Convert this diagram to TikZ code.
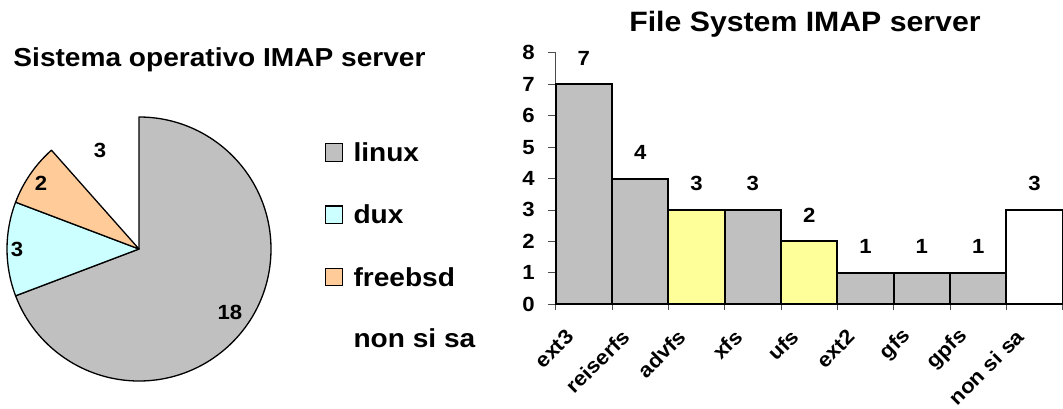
\documentclass[tikz,border=0pt]{standalone}
\usepackage{fontspec}
\setmainfont{Liberation Sans}[FakeStretch=1.08]
\usetikzlibrary{positioning}
\definecolor{osgray}{HTML}{C0C0C0}
\definecolor{oscyan}{HTML}{CCFFFF}
\definecolor{ospeach}{HTML}{FFCC99}
\definecolor{fsyellow}{HTML}{FFFF99}

\begin{document}
\begin{tikzpicture}[x=1pt, y=-1pt,
                    every node/.style = {inner sep=0pt, text=black},
                    charttitle/.style = {font=\fontsize{26}{30}\selectfont\bfseries},
                    legtext/.style = {font=\fontsize{26}{30}\selectfont\bfseries},
                    legbox/.style = {draw, line width=1.2pt, minimum size=17.5pt},
                    numlabel/.style = {font=\fontsize{20.5}{24}\selectfont\bfseries},
                    fslabel/.style = {font=\fontsize{20.5}{24}\selectfont\bfseries, rotate=45, anchor=east},
                    slice/.style = {draw=black, line width=1.3pt, line join=round},
                    barline/.style = {draw=black, line width=2pt},
                    tickline/.style = {draw=black!70, line width=0.9pt}]
    \useasboundingbox (0,0) rectangle (1063,409);

    % operating systems: pie and legend
    \node (ostitle) [charttitle, anchor=base] at (219.5,66.7) {Sistema operativo IMAP server};
    \coordinate (pc) at (139,249);
    \def\R{132pt}
    \fill [white] (pc) -- ++(131.54:\R) arc[start angle=131.54, end angle=90, radius=\R] -- cycle;
    \draw [slice, fill=osgray]  (pc) -- ++(90:\R) arc[start angle=90, end angle=-159.23, radius=\R] -- cycle;
    \draw [slice, fill=oscyan]  (pc) -- ++(200.77:\R) arc[start angle=200.77, end angle=159.23, radius=\R] -- cycle;
    \draw [slice, fill=ospeach] (pc) -- ++(159.23:\R) arc[start angle=159.23, end angle=131.54, radius=\R] -- cycle;

    \node (pielinux)   [numlabel] at (230,312) {18};
    \node (piedux)     [numlabel] at (17,249)  {3};
    \node (piefreebsd) [numlabel] at (41,183)  {2};
    \node (pienone)    [numlabel] at (100,150) {3};

    \begin{scope}[node distance=43.5pt and 10pt]
        \node (lglinux)   [legbox, fill=osgray] at (334,152.5) {};
        \node (lgdux)     [legbox, fill=oscyan, below = of lglinux] {};
        \node (lgfreebsd) [legbox, fill=ospeach, below = of lgdux] {};
        \node (lglinuxtxt)   [legtext, right = of lglinux] {linux};
        \node (lgduxtxt)     [legtext, right = of lgdux] {dux};
        \node (lgfreebsdtxt) [legtext, right = of lgfreebsd] {freebsd};
        \node (lgnonetxt)    [legtext, below = 61pt of lgfreebsdtxt.west, anchor=west] {non si sa};
    \end{scope}

    % file systems: bar chart
    \node (fstitle) [charttitle, font=\fontsize{28}{32}\selectfont\bfseries, anchor=base] at (805,31.7) {File System IMAP server};

    \draw [tickline] (555.7,304.3) -- (555.7,52.7);
    \foreach \v in {0,...,8} {
        \draw [tickline] (547.7,{304.3-31.45*\v}) -- (555.7,{304.3-31.45*\v});
        \node (yl\v) [numlabel, anchor=east] at (535,{304.3-31.45*\v}) {\v};
    }
    \foreach \i in {0,...,9}
        \draw [tickline] ({555.7+56.33*\i},304.3) -- ++(0,6);

    \foreach \fs/\n/\col [count=\i from 0] in {ext3/7/osgray, reiserfs/4/osgray, advfs/3/fsyellow,
            xfs/3/osgray, ufs/2/fsyellow, ext2/1/osgray, gfs/1/osgray, gpfs/1/osgray, {non si sa}/3/white} {
        \pgfmathsetmacro\xl{555.7+56.33*\i}
        \pgfmathsetmacro\xm{\xl+28.17}
        \pgfmathsetmacro\yt{304.3-31.45*\n}
        \draw [barline, fill=\col] (\xl,304.3) rectangle ++(56.33,-31.45*\n);
        \node (val\i) [numlabel] at (\xm,\yt-26) {\n};
        \node (fs\i) [fslabel] at (\xm-14,333) {\fs};
    }
    \draw [barline] (555.7,304.3) -- (1062.7,304.3);
\end{tikzpicture}
\end{document}
